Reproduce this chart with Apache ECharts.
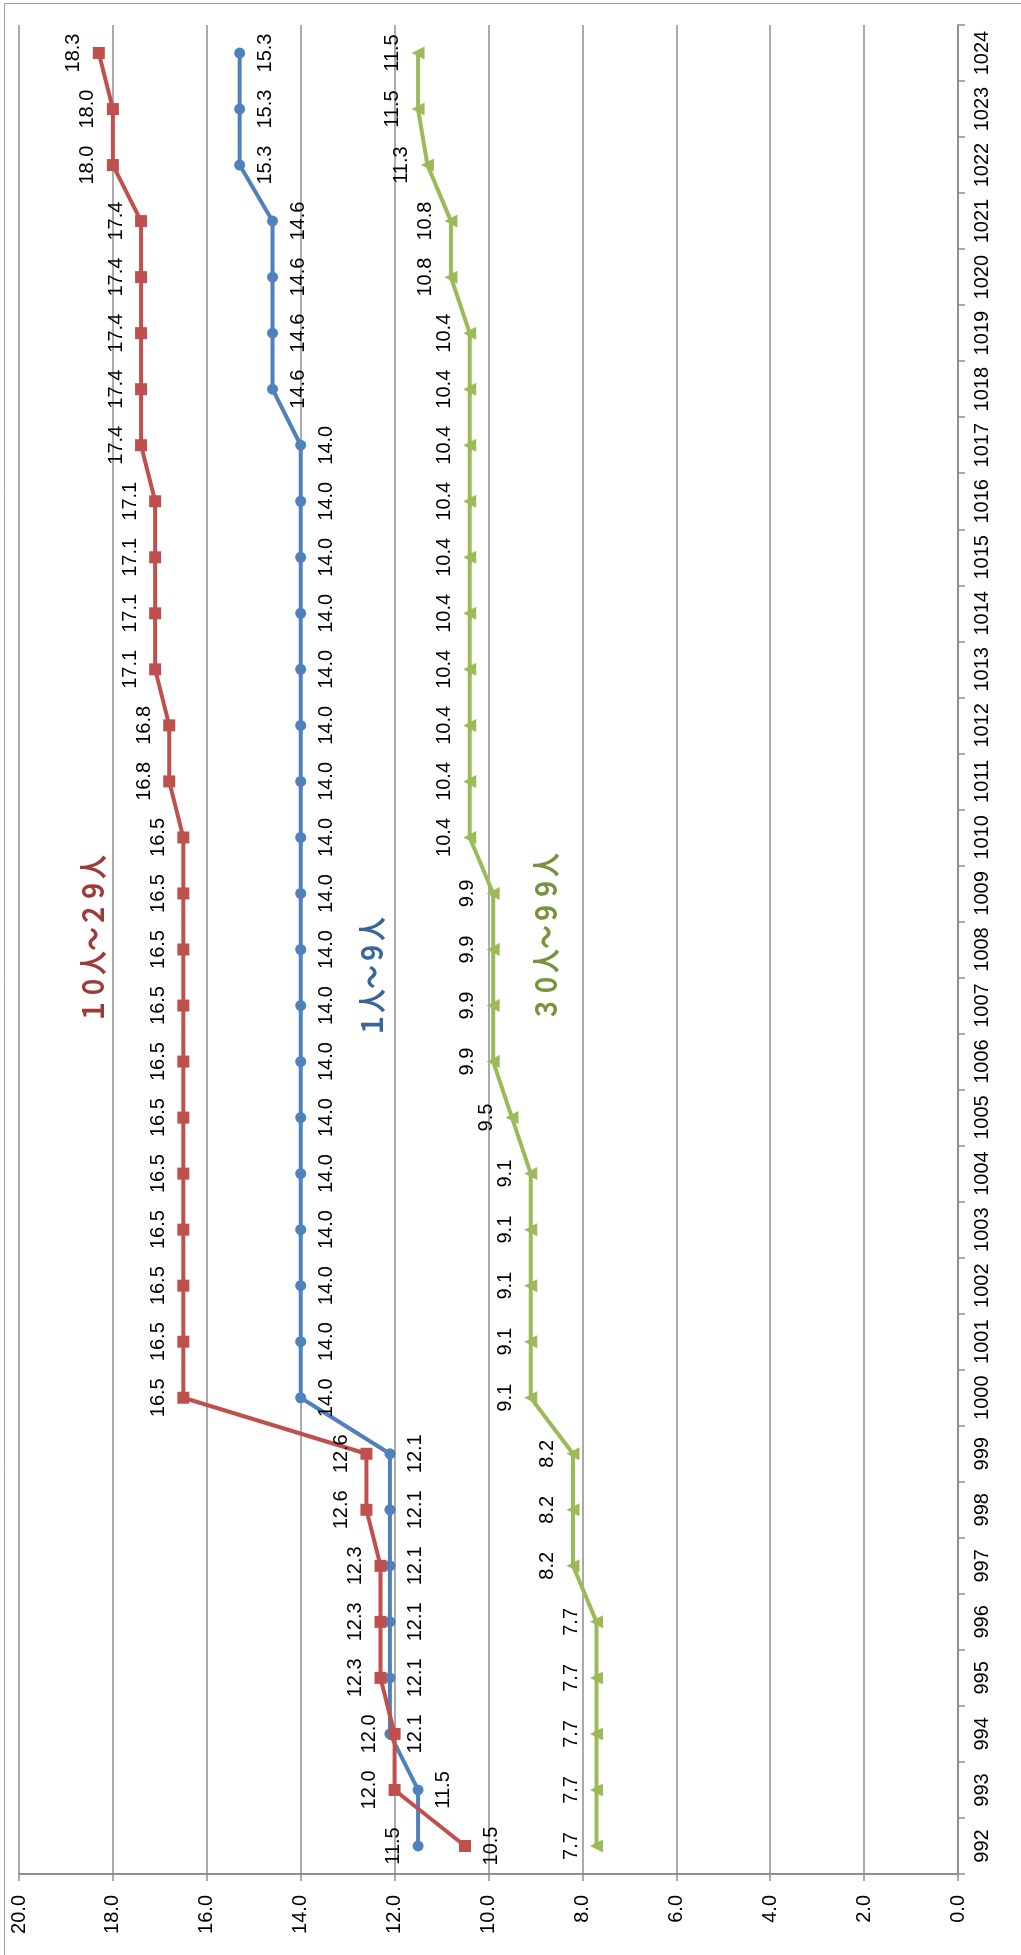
<!DOCTYPE html>
<html>

<head>
    <meta charset="utf-8">
    <title>ECharts</title>
    <script src="https://cdn.jsdelivr.net/npm/echarts@6.0.0/dist/echarts.min.js"></script>
    <style>
        body { margin: 0; background: #fff; }
    </style>
</head>

<body>
    <div id="main" style="width: 1021px;height:1955px;"></div>
    <script type="text/javascript">
        // categories (bottom to top)
        var codes = ['992', '993', '994', '995', '996', '997', '998', '999', '1000', '1001', '1002',
            '1003', '1004', '1005', '1006', '1007', '1008', '1009', '1010', '1011', '1012', '1013',
            '1014', '1015', '1016', '1017', '1018', '1019', '1020', '1021', '1022', '1023', '1024'];

        // 1人～9人
        var small = [11.5, 11.5, 12.1, 12.1, 12.1, 12.1, 12.1, 12.1, 14.0, 14.0, 14.0,
            14.0, 14.0, 14.0, 14.0, 14.0, 14.0, 14.0, 14.0, 14.0, 14.0, 14.0,
            14.0, 14.0, 14.0, 14.0, 14.6, 14.6, 14.6, 14.6, 15.3, 15.3, 15.3];

        // 10人～29人
        var middle = [10.5, 12.0, 12.0, 12.3, 12.3, 12.3, 12.6, 12.6, 16.5, 16.5, 16.5,
            16.5, 16.5, 16.5, 16.5, 16.5, 16.5, 16.5, 16.5, 16.8, 16.8, 17.1,
            17.1, 17.1, 17.1, 17.4, 17.4, 17.4, 17.4, 17.4, 18.0, 18.0, 18.3];

        // 30人～99人
        var large = [7.7, 7.7, 7.7, 7.7, 7.7, 8.2, 8.2, 8.2, 9.1, 9.1, 9.1,
            9.1, 9.1, 9.5, 9.9, 9.9, 9.9, 9.9, 10.4, 10.4, 10.4, 10.4,
            10.4, 10.4, 10.4, 10.4, 10.4, 10.4, 10.8, 10.8, 11.3, 11.5, 11.5];

        var valueTicks = { min: 0, max: 20, interval: 2 };

        var gridColor = '#8f8f8f';
        var textFont = 'Liberation Sans, Arial, sans-serif';

        // labels rotated to read bottom-to-top
        var leftLabel = {
            show: true, position: 'left', distance: 9, rotate: 90,
            align: 'center', verticalAlign: 'bottom',
            fontSize: 20, fontFamily: textFont, color: '#000',
            formatter: function (p) { return p.value.toFixed(1); }
        };
        var rightLabel = {
            show: true, position: 'right', distance: 10, rotate: 90,
            align: 'center', verticalAlign: 'top',
            fontSize: 20, fontFamily: textFont, color: '#000',
            formatter: function (p) { return p.value.toFixed(1); }
        };

        // a couple of labels sit on the other side in the picture
        var middleData = middle.map(function (v, i) {
            return i === 0 ? { value: v, label: { position: 'right', verticalAlign: 'top', distance: 10 } } : v;
        });
        var smallData = small.map(function (v, i) {
            return i === 0 ? { value: v, label: { position: 'left', verticalAlign: 'bottom', distance: 9 } } : v;
        });

        // series names written inside the plot
        function nameText(txt, color, x, y) {
            return {
                type: 'text', x: x, y: y, rotation: Math.PI / 2, scaleY: 1.2,
                style: {
                    text: txt, fill: color,
                    font: 'bold 24px "Noto Sans CJK JP"',
                    align: 'center', verticalAlign: 'middle',
                    textAlign: 'center', textVerticalAlign: 'middle'
                }
            };
        }

        var myChart = echarts.init(document.getElementById('main'));

        myChart.setOption({
            animation: false,
            backgroundColor: '#fff',
            grid: {
                left: 19, right: 63, top: 25, bottom: 81,
                outerBoundsMode: 'none'
            },
            xAxis: {
                type: 'value',
                inverse: true,
                min: valueTicks.min,
                max: valueTicks.max,
                interval: valueTicks.interval,
                position: 'bottom',
                axisLine: { show: true, lineStyle: { color: gridColor, width: 2 } },
                axisTick: { show: true, length: 7, lineStyle: { color: gridColor, width: 1.5 } },
                splitLine: { show: true, lineStyle: { color: gridColor, width: 1.5 } },
                axisLabel: {
                    rotate: 90, margin: 21, fontSize: 20, fontFamily: textFont, color: '#000',
                    showMinLabel: true, showMaxLabel: true,
                    formatter: function (v) { return v.toFixed(1); }
                }
            },
            yAxis: {
                type: 'category',
                position: 'right',
                data: codes,
                boundaryGap: true,
                axisLine: { show: true, lineStyle: { color: gridColor, width: 2 } },
                axisTick: { show: true, length: 7, lineStyle: { color: gridColor, width: 1.5 } },
                splitLine: { show: false },
                axisLabel: {
                    rotate: 90, margin: 14, interval: 0, fontSize: 20, fontFamily: textFont, color: '#000'
                }
            },
            graphic: [
                {
                    type: 'rect',
                    shape: { x: 4.5, y: 3.5, width: 1200, height: 2100 },
                    style: { fill: null, stroke: '#a0a0a0', lineWidth: 1 },
                    silent: true
                },
                nameText('１０人～２９人', '#9e3a38', 93, 939),
                nameText('１人～９人', '#3a679b', 372, 977),
                nameText('３０人～９９人', '#77933c', 546, 937)
            ],
            series: [
                {
                    name: '１人～９人',
                    type: 'line',
                    data: smallData,
                    symbol: 'circle',
                    symbolSize: 11,
                    itemStyle: { color: '#4f81bd' },
                    lineStyle: { color: '#4f81bd', width: 4 },
                    label: rightLabel
                },
                {
                    name: '１０人～２９人',
                    type: 'line',
                    data: middleData,
                    symbol: 'rect',
                    symbolSize: 12,
                    itemStyle: { color: '#c0504d' },
                    lineStyle: { color: '#c0504d', width: 4 },
                    label: leftLabel
                },
                {
                    name: '３０人～９９人',
                    type: 'line',
                    data: large,
                    symbol: 'triangle',
                    symbolSize: 13,
                    symbolRotate: 90,
                    itemStyle: { color: '#9bbb59' },
                    lineStyle: { color: '#9bbb59', width: 4 },
                    label: leftLabel
                }
            ]
        });
    </script>
</body>

</html>
